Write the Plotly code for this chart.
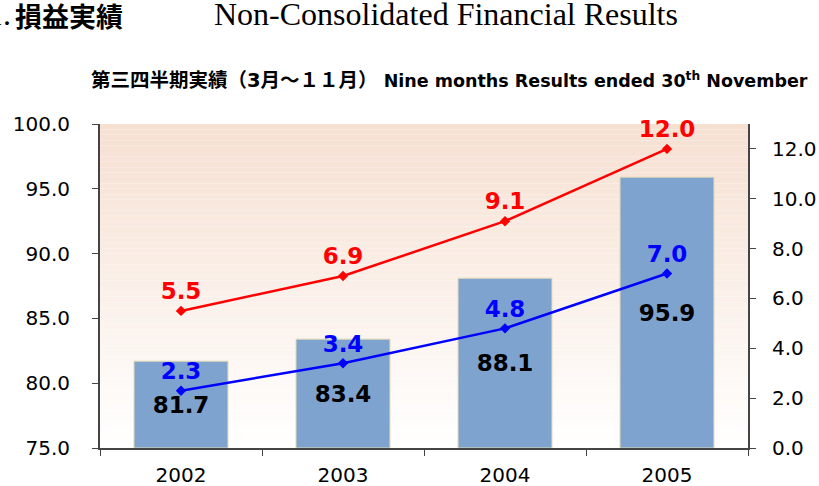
import plotly.graph_objects as go

years = ["2002", "2003", "2004", "2005"]
sales = [81.7, 83.4, 88.1, 95.9]
red_series = [5.5, 6.9, 9.1, 12.0]
blue_series = [2.3, 3.4, 4.8, 7.0]
left_ticks = [75, 80, 85, 90, 95, 100]
right_ticks = [0, 2, 4, 6, 8, 10, 12]
left_min, left_max = 75, 100

W, H = 819, 486
L, R, T, B = 100, 71, 124, 38
PW, PH = W - L - R, H - T - B


def px(x):
    return (x - L) / PW


def py(y):
    return (H - B - y) / PH


label_font = "DejaVu Sans, Liberation Sans, Arial"

fig = go.Figure()

fig.add_trace(go.Bar(
    x=years, y=[v - left_min for v in sales], base=left_min, width=0.58,
    marker=dict(color="#7fa3cf", line=dict(color="#e2d9b4", width=1)),
    text=[f"{v:.1f}" for v in sales], textposition="inside", insidetextanchor="middle",
    textfont=dict(family=label_font, size=23, color="black", weight="bold"),
    showlegend=False, hoverinfo="skip",
))
fig.add_trace(go.Scatter(
    x=years, y=red_series, yaxis="y2", mode="lines+markers+text",
    line=dict(color="#ff0000", width=2.5), marker=dict(symbol="diamond", size=8, color="#ff0000"),
    text=[f"{v:.1f}" for v in red_series], textposition="top center",
    textfont=dict(family=label_font, size=23, color="#ff0000", weight="bold"),
    cliponaxis=False, showlegend=False,
))
fig.add_trace(go.Scatter(
    x=years, y=blue_series, yaxis="y2", mode="lines+markers+text",
    line=dict(color="#0000ff", width=2.5), marker=dict(symbol="diamond", size=8, color="#0000ff"),
    text=[f"{v:.1f}" for v in blue_series], textposition="top center",
    textfont=dict(family=label_font, size=23, color="#0000ff", weight="bold"),
    cliponaxis=False, showlegend=False,
))

# gradient background
n = 60
top = (246, 224, 210)
bot = (255, 255, 255)
shapes = []
for i in range(n):
    t = i / (n - 1)
    c = tuple(round(top[k] + (bot[k] - top[k]) * t) for k in range(3))
    shapes.append(dict(type="rect", xref="paper", yref="paper", x0=0, x1=1,
                       y0=1 - (i + 1) / n, y1=1 - i / n, fillcolor=f"rgb{c}",
                       line=dict(width=0), layer="below"))

axis_font = dict(family="DejaVu Sans, Liberation Sans, Arial", size=20, color="black")
common = dict(showline=True, linecolor="#444", linewidth=2, ticks="outside", ticklen=6,
              tickcolor="#444", tickfont=axis_font, showgrid=False, automargin=False)
fig.update_layout(
    width=W, height=H,
    margin=dict(l=L, r=R, t=T, b=B, autoexpand=False),
    paper_bgcolor="white", plot_bgcolor="rgba(0,0,0,0)",
    shapes=shapes,
    xaxis=dict(type="category", tickson="boundaries", ticklabelstandoff=8, **common),
    yaxis=dict(range=[left_min, left_max], tickvals=left_ticks, tickformat=".1f",
               zeroline=False, ticklabelstandoff=18, **common),
    yaxis2=dict(range=[0, 13], tickvals=right_ticks, tickformat=".1f", overlaying="y",
                side="right", zeroline=False, ticklabelstandoff=12, **common),
    annotations=[
        dict(text="1.", xref="paper", yref="paper", x=px(13), y=py(14),
             xanchor="right", yanchor="middle", showarrow=False,
             font=dict(family="Liberation Serif", size=32, color="black")),
        dict(text="<b>損益実績</b>", xref="paper", yref="paper", x=px(13), y=py(15),
             xanchor="left", yanchor="middle", showarrow=False,
             font=dict(family="Noto Sans CJK JP", size=27, color="black")),
        dict(text="Non-Consolidated Financial Results", xref="paper", yref="paper",
             x=px(212), y=py(14), xanchor="left", yanchor="middle", showarrow=False,
             font=dict(family="Liberation Serif", size=32, color="black")),
        dict(text="<b><span style=\"font-size:19.5px\">第三四半期実績（3月～１１月）</span> "
                  "Nine months Results ended 30<sup>th</sup> November</b>",
             xref="paper", yref="paper", x=px(449.5), y=py(80), xanchor="center",
             yanchor="middle", showarrow=False,
             font=dict(family="DejaVu Sans, Noto Sans CJK JP", size=17.5, color="black")),
    ],
)

fig.write_html("out.html", config={"displayModeBar": False},
               post_script="document.body.style.margin='0';")
